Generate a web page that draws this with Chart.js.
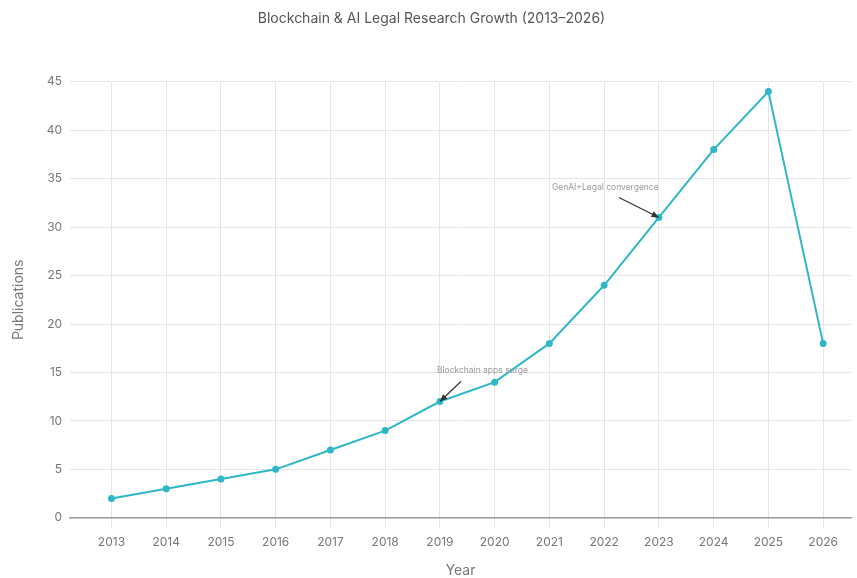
<!DOCTYPE html>
<html>
<head>
<meta charset="utf-8">
<script src="https://cdn.jsdelivr.net/npm/chart.js@4"></script>
<style>
  html, body { margin: 0; padding: 0; background: #fff; }
  #wrap { width: 857px; height: 578px; }
</style>
</head>
<body>
<div id="wrap"><canvas id="growthChart"></canvas></div>
<script>
/* data */
const years = [2013, 2014, 2015, 2016, 2017, 2018, 2019, 2020, 2021, 2022, 2023, 2024, 2025, 2026];
const publications = [2, 3, 4, 5, 7, 9, 12, 14, 18, 24, 31, 38, 44, 18];
const yTicks = [0, 5, 10, 15, 20, 25, 30, 35, 40, 45];
const notes = [
  { year: 2019, text: "Blockchain apps surge", dx: -3, dy: -31, from: [21, -20] },
  { year: 2023, text: "GenAI+Legal convergence", dx: -107, dy: -30, from: [-40, -20] }
];

const gray = "#777";
Chart.defaults.font.family = "Inter, 'Liberation Sans', sans-serif";

/* arrows + labels */
const notePlugin = {
  id: "notes",
  afterDatasetsDraw(chart) {
    const { ctx, scales } = chart;
    ctx.save();
    notes.forEach(n => {
      const i = years.indexOf(n.year);
      const px = scales.x.getPixelForValue(n.year);
      const py = scales.y.getPixelForValue(publications[i]);
      ctx.font = "8.5px Inter, sans-serif";
      ctx.fillStyle = "#999";
      ctx.textBaseline = "middle";
      ctx.fillText(n.text, px + n.dx, py + n.dy);
      const sx = px + n.from[0], sy = py + n.from[1];
      const tx = px, ty = py;
      ctx.strokeStyle = "#333";
      ctx.fillStyle = "#333";
      ctx.lineWidth = 1.2;
      ctx.beginPath();
      ctx.moveTo(sx, sy);
      ctx.lineTo(tx, ty);
      ctx.stroke();
      const ang = Math.atan2(ty - sy, tx - sx);
      ctx.beginPath();
      ctx.moveTo(tx, ty);
      ctx.lineTo(tx - 8 * Math.cos(ang - 0.4), ty - 8 * Math.sin(ang - 0.4));
      ctx.lineTo(tx - 8 * Math.cos(ang + 0.4), ty - 8 * Math.sin(ang + 0.4));
      ctx.closePath();
      ctx.fill();
    });
    ctx.restore();
  }
};

new Chart(document.getElementById("growthChart"), {
  type: "line",
  data: {
    datasets: [{
      data: years.map((y, i) => ({ x: y, y: publications[i] })),
      borderColor: "#30b7c7",
      backgroundColor: "#30b7c7",
      borderWidth: 2,
      pointRadius: 2.5,
      tension: 0
    }]
  },
  options: {
    responsive: true,
    maintainAspectRatio: false,
    animation: false,
    layout: { padding: { top: 10, right: 0, left: 6, bottom: -5 } },
    plugins: {
      legend: { display: false },
      tooltip: { enabled: false },
      title: {
        display: true,
        text: "Blockchain & AI Legal Research Growth (2013–2026)",
        color: "#555",
        font: { size: 14, weight: "normal" },
        padding: { top: 0, bottom: 55 }
      }
    },
    scales: {
      x: {
        type: "linear",
        min: 2012.245,
        max: 2026.509,
        afterBuildTicks: s => { s.ticks = years.map(v => ({ value: v })); },
        ticks: { color: gray, font: { size: 12 }, padding: 7, callback: v => String(v) },
        grid: { color: "#e6e6e6", tickLength: 10 },
        border: { color: "#999", width: 1.5 },
        title: { display: true, text: "Year", color: gray, font: { size: 14 }, padding: { top: 6 } }
      },
      y: {
        min: 0,
        max: 45,
        afterBuildTicks: s => { s.ticks = yTicks.map(v => ({ value: v })); },
        ticks: { color: gray, font: { size: 12 }, padding: 8 },
        grid: { color: "#e6e6e6", drawTicks: false },
        border: { display: false },
        title: { display: true, text: "Publications", color: gray, font: { size: 14 }, padding: { bottom: 12 } }
      }
    }
  },
  plugins: [notePlugin]
});
</script>
</body>
</html>
